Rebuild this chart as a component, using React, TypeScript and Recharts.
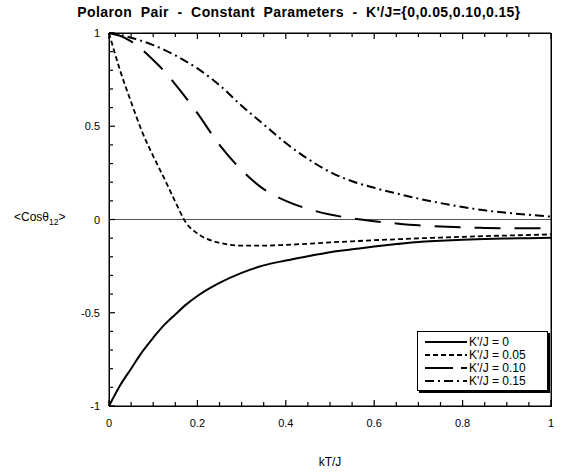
import { LineChart, Line, XAxis, YAxis, ReferenceLine } from 'recharts'

// kT/J sample points (finer near 0, where the curves fall fastest)
const kT = [
  0, 0.025, 0.05, 0.075, 0.1, 0.125, 0.15, 0.175, 0.2, 0.25, 0.3, 0.35, 0.4, 0.45, 0.5, 0.55, 0.6,
  0.65, 0.7, 0.75, 0.8, 0.85, 0.9, 0.95, 1.0,
]

// <Cos theta12> for each K'/J
const cosK0 = [
  -1, -0.89, -0.8, -0.71, -0.634, -0.565, -0.509, -0.455, -0.41, -0.34, -0.286, -0.246, -0.22,
  -0.197, -0.175, -0.16, -0.145, -0.132, -0.12, -0.114, -0.109, -0.105, -0.102, -0.1, -0.098,
]
const cosK005 = [
  1, 0.8, 0.63, 0.47, 0.34, 0.22, 0.095, -0.02, -0.075, -0.125, -0.14, -0.14, -0.136, -0.13,
  -0.123, -0.117, -0.111, -0.106, -0.101, -0.097, -0.093, -0.089, -0.086, -0.083, -0.08,
]
const cosK010 = [
  1, 0.985, 0.955, 0.91, 0.855, 0.795, 0.725, 0.65, 0.57, 0.4, 0.265, 0.163, 0.1, 0.057, 0.027,
  0.006, -0.009, -0.021, -0.031, -0.037, -0.042, -0.045, -0.047, -0.047, -0.046,
]
const cosK015 = [
  1, 0.99, 0.975, 0.957, 0.935, 0.91, 0.88, 0.847, 0.81, 0.72, 0.61, 0.51, 0.41, 0.325, 0.255,
  0.205, 0.17, 0.14, 0.112, 0.088, 0.067, 0.049, 0.036, 0.025, 0.015,
]

const xTicks = [
  0, 0.05, 0.1, 0.15, 0.2, 0.25, 0.3, 0.35, 0.4, 0.45, 0.5, 0.55, 0.6, 0.65, 0.7, 0.75, 0.8, 0.85,
  0.9, 0.95, 1,
]
const yTicks = [-1, -0.9, -0.8, -0.7, -0.6, -0.5, -0.4, -0.3, -0.2, -0.1, 0, 0.1, 0.2, 0.3, 0.4, 0.5, 0.6, 0.7, 0.8, 0.9, 1]

const series = [
  { key: 'k0', name: "K'/J = 0", dash: undefined, width: 2 },
  { key: 'k005', name: "K'/J = 0.05", dash: '5 3', width: 1.8 },
  { key: 'k010', name: "K'/J = 0.10", dash: '26 14', width: 2 },
  { key: 'k015', name: "K'/J = 0.15", dash: '9 4 2 4', width: 2 },
]

const data = kT.map((x, i) => ({
  x,
  k0: cosK0[i],
  k005: cosK005[i],
  k010: cosK010[i],
  k015: cosK015[i],
}))

const FONT = 'Arial, "Liberation Sans", Helvetica, sans-serif'

// plot box, kept in step with the chart margins and axis sizes below
const PLOT = { left: 109, top: 33, width: 442, height: 373 }

const isMultiple = (v: number, step: number) => Math.abs(v / step - Math.round(v / step)) < 1e-9
const label = (v: number) => String(Number(v.toFixed(1)))

// inward tick marks, longer on the labelled majors
const BottomTick = (props: any) => {
  const { x, y, payload } = props
  const v = payload.value as number
  const major = isMultiple(v, 0.2)
  return (
    <g>
      <rect x={x - 0.6} y={y - (major ? 6 : 4)} width={1.2} height={major ? 6 : 4} fill="#000" />
      {major && (
        <text x={x} y={y + 21} textAnchor="middle" fontFamily={FONT} fontSize={11} fill="#000">
          {label(v)}
        </text>
      )}
    </g>
  )
}

const TopTick = (props: any) => {
  const { x, y, payload } = props
  const major = isMultiple(payload.value, 0.2)
  return <rect x={x - 0.6} y={y} width={1.2} height={major ? 6 : 4} fill="#000" />
}

const LeftTick = (props: any) => {
  const { x, y, payload } = props
  const v = payload.value as number
  const major = isMultiple(v, 0.5)
  return (
    <g>
      <rect x={x} y={y - 0.6} width={major ? 6 : 4} height={1.2} fill="#000" />
      {major && (
        <text x={x - 9} y={y + 4} textAnchor="end" fontFamily={FONT} fontSize={11} fill="#000">
          {label(v)}
        </text>
      )}
    </g>
  )
}

const RightTick = (props: any) => {
  const { x, y, payload } = props
  const major = isMultiple(payload.value, 0.5)
  const len = major ? 6 : 4
  return <rect x={x - len} y={y - 0.6} width={len} height={1.2} fill="#000" />
}

const LegendBox = () => (
  <div
    style={{
      position: 'absolute',
      left: 417,
      top: 331,
      border: '1px solid #000',
      boxShadow: '2px 2px 0 #000',
      background: '#fff',
      padding: '3px 4px 3px 7px',
      width: 118,
      fontFamily: FONT,
      fontSize: 12,
      color: '#000',
    }}
  >
    {series.map((s) => (
      <div key={s.key} style={{ display: 'flex', alignItems: 'center', height: 13 }}>
        <svg width={42} height={8} style={{ marginRight: 2 }}>
          <line
            x1={0}
            y1={4}
            x2={42}
            y2={4}
            stroke="#000"
            strokeWidth={s.width}
            strokeDasharray={s.key === 'k010' ? '28 8 6 0' : s.dash}
          />
        </svg>
        <span>{s.name}</span>
      </div>
    ))}
  </div>
)

export default function App() {
  return (
    <div style={{ position: 'absolute', left: 0, top: 0, width: 582, height: 474, overflow: 'hidden' }}>
      <LineChart
        width={582}
        height={474}
        data={data}
        margin={{ top: 32, right: 30, bottom: 38, left: 79 }}
      >
        <XAxis
          xAxisId="bottom"
          dataKey="x"
          type="number"
          domain={[0, 1]}
          ticks={xTicks}
          interval={0}
          height={30}
          tickLine={false}
          tickSize={0}
          tickMargin={0}
          stroke="#000"
          tick={<BottomTick />}
        />
        <XAxis
          xAxisId="top"
          dataKey="x"
          type="number"
          orientation="top"
          domain={[0, 1]}
          ticks={xTicks}
          interval={0}
          height={1}
          tickLine={false}
          tickSize={0}
          tickMargin={0}
          stroke="#000"
          tick={<TopTick />}
        />
        <YAxis
          yAxisId="left"
          type="number"
          domain={[-1, 1]}
          ticks={yTicks}
          interval={0}
          width={30}
          tickLine={false}
          tickSize={0}
          tickMargin={0}
          stroke="#000"
          tick={<LeftTick />}
        />
        <YAxis
          yAxisId="right"
          type="number"
          orientation="right"
          domain={[-1, 1]}
          ticks={yTicks}
          interval={0}
          width={1}
          tickLine={false}
          tickSize={0}
          tickMargin={0}
          stroke="#000"
          tick={<RightTick />}
        />
        <ReferenceLine xAxisId="bottom" yAxisId="left" y={0} stroke="#555" strokeWidth={1} />
        {series.map((s) => (
          <Line
            key={s.key}
            xAxisId="bottom"
            yAxisId="left"
            type="monotone"
            dataKey={s.key}
            name={s.name}
            stroke="#000"
            strokeWidth={s.width}
            strokeDasharray={s.dash}
            dot={false}
            isAnimationActive={false}
          />
        ))}
      </LineChart>
      {/* plot frame */}
      <div
        style={{
          position: 'absolute',
          left: PLOT.left - 0.5,
          top: PLOT.top - 0.5,
          width: PLOT.width + 1,
          height: PLOT.height + 1,
          boxSizing: 'border-box',
          border: '1px solid #000',
          pointerEvents: 'none',
        }}
      />
      <div
        style={{
          position: 'absolute',
          left: 0,
          top: 4,
          width: 582,
          boxSizing: 'border-box',
          paddingLeft: 16,
          textAlign: 'center',
          fontFamily: FONT,
          fontWeight: 'bold',
          fontSize: 14,
          letterSpacing: 0.4,
          whiteSpace: 'pre',
        }}
      >
        {"Polaron  Pair  -  Constant  Parameters  -  K'/J={0,0.05,0.10,0.15}"}
      </div>
      <div
        style={{
          position: 'absolute',
          left: 14,
          top: 210,
          fontFamily: FONT,
          fontSize: 12,
          lineHeight: '14px',
          whiteSpace: 'pre',
        }}
      >
        {'<Cosθ'}
        <span style={{ fontSize: 8.5, position: 'relative', top: 4 }}>12</span>
        {'>'}
      </div>
      <div
        style={{
          position: 'absolute',
          left: 280,
          width: 100,
          top: 455,
          textAlign: 'center',
          fontFamily: FONT,
          fontSize: 12,
          lineHeight: '14px',
        }}
      >
        kT/J
      </div>
      <LegendBox />
    </div>
  )
}
